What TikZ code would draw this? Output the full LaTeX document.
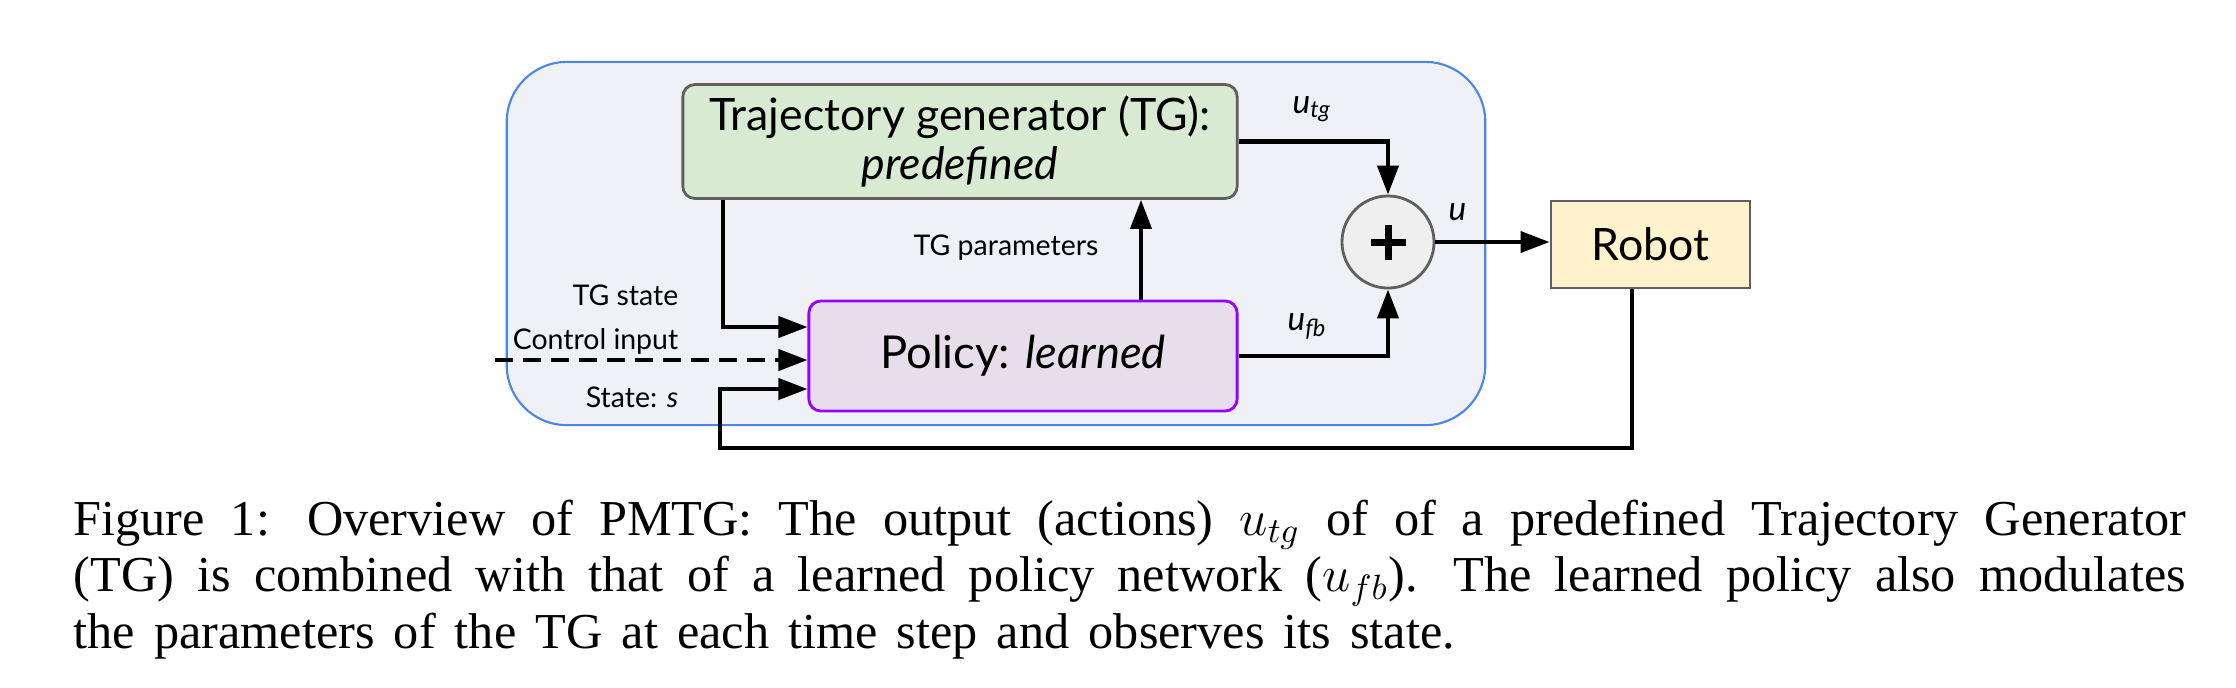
\documentclass[tikz,border=0pt]{standalone}
\usepackage{fontspec}
\setmainfont{Liberation Serif}
\newfontfamily\dfont{Lato}
\usetikzlibrary{arrows.meta}
\definecolor{outerfill}{HTML}{F0F1F7}
\definecolor{outerline}{HTML}{4A86E8}
\definecolor{tgfill}{HTML}{D9EAD3}
\definecolor{boxline}{HTML}{5F5F5F}
\definecolor{polfill}{HTML}{E6DFEB}
\definecolor{polline}{HTML}{9900FF}
\definecolor{sumfill}{HTML}{EFEFEF}
\definecolor{robfill}{HTML}{FFF2CC}
\tikzset{
  outerbox/.style={draw=outerline, fill=outerfill, line width=0.6pt, rounded corners=0.6cm, inner sep=0},
  tgbox/.style={draw=boxline, fill=tgfill, line width=0.8pt, rounded corners=0.12cm, align=center, font=\dfont\fontsize{12.7}{13.7}\selectfont},
  polbox/.style={draw=polline, fill=polfill, line width=0.8pt, rounded corners=0.12cm, align=center, font=\dfont\fontsize{12.9}{14}\selectfont},
  sumnode/.style={draw=boxline, fill=sumfill, line width=0.8pt, circle, minimum size=0.92cm, inner sep=0},
  robbox/.style={draw=boxline, fill=robfill, line width=0.8pt, align=center, font=\dfont\fontsize{12.7}{14}\selectfont},
  arr/.style={line width=1.15pt, -{Triangle[length=0.29cm,width=0.21cm]}},
  lbl/.style={inner sep=0, font=\dfont\fontsize{8.1}{9}\selectfont},
  ulbl/.style={inner sep=0, font=\dfont\fontsize{9.5}{10}\selectfont\itshape},
}
\begin{document}
\begin{tikzpicture}[x=0.01cm,y=-0.01cm]
\useasboundingbox (0,0) rectangle (2236,687);
\node[outerbox, minimum width=9.78cm, minimum height=3.63cm] (outer) at (996,243.5) {};
\node[tgbox, minimum width=5.54cm, minimum height=1.11cm] (tg) at (960,141.5) {Trajectory generator (TG):\\\textit{predefined}};
\node[polbox, minimum width=4.28cm, minimum height=1.10cm] (pol) at (1023,356) {Policy: \textit{learned}};
\node[sumnode] (sum) at (1388,242) {};
\draw[line width=0.07cm] ([xshift=-0.175cm]sum.center) -- ([xshift=0.175cm]sum.center);
\draw[line width=0.07cm] ([yshift=-0.175cm]sum.center) -- ([yshift=0.175cm]sum.center);
\node[robbox, minimum width=1.99cm, minimum height=0.87cm] (rob) at (1650.5,244.5) {Robot};
% connectors
\draw[arr] (tg.east) -| (sum.north);
\draw[arr] (pol.east) -| (sum.south);
\draw[arr] (sum.east) -- (sum.east -| rob.west);
\coordinate (tp) at (1141,0);
\draw[arr] (pol.north -| tp) -- (tg.south -| tp);
\coordinate (ts) at (723,327);
\draw[arr] (tg.south -| ts) |- (pol.west |- ts);
\coordinate (ci) at (495,360);
\draw[arr, dash pattern=on 0.18cm off 0.1cm] (ci) -- (pol.west |- ci);
\coordinate (fb1) at (1632,448);
\coordinate (fb2) at (720,389);
\draw[arr] (rob.south -| fb1) |- (fb2 |- fb1) |- (pol.west |- fb2);
% labels
\node[lbl, anchor=base east] (ltgs) at (679,305) {TG state};
\node[lbl, anchor=base east] (lci) at (679,349) {Control input};
\node[lbl, anchor=base east] (lst) at (679,407) {State: \textit{s}};
\node[lbl, anchor=base] (ltp) at (1006,255) {TG parameters};
\node[ulbl, anchor=base west] (lutg) at (1292,113) {u\textsubscript{tg}};
\node[ulbl, anchor=base west] (lufb) at (1287,330) {u\textsubscript{fb}};
\node[ulbl, anchor=base west] (lu) at (1448,220) {u};
% caption
\node[inner sep=0, anchor=base west] (cap) at (73,535) {\parbox[t]{21.11cm}{\fontsize{14.3}{16.1}\selectfont\hyphenpenalty=10000\parindent=0pt
\spaceskip=0.38em plus 0.3em minus 0.12em
Figure 1: Overview of PMTG: The output (actions) $u_{tg}$ of of a predefined Trajectory Generator\linebreak
(TG) is combined with that of a learned policy network ($u_{fb}$). The learned policy also modulates\linebreak
the parameters of the TG at each time step and observes its state.}};
\end{tikzpicture}
\end{document}
